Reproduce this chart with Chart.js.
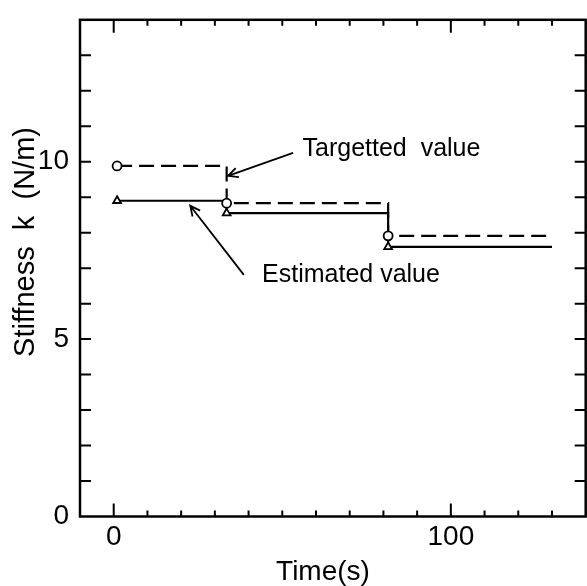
<!DOCTYPE html>
<html>
<head>
<meta charset="utf-8">
<script src="https://cdn.jsdelivr.net/npm/chart.js@4.4.1/dist/chart.umd.min.js"></script>
<style>
  html, body { margin: 0; padding: 0; background: #fff; overflow: hidden; }
  canvas { display: block; }
</style>
</head>
<body>
<canvas id="chart" width="592" height="586"></canvas>
<script>
// --- data: stiffness steps over time --- //
const targTime = [1, 33.5, 81.4, 130];
const targK    = [9.88, 8.83, 7.91, 7.91];
const estTime  = [1, 33.5, 81.4, 130];
const estK     = [8.9, 8.55, 7.6, 7.6];
const markerRadius = [4.5, 4.5, 4.5, 0];   // no marker on the run-out end

const xTickLabels = [0, 100];
const yTickLabels = [0, 5, 10];

// callouts, in data units
const notes = [
  {text: "Targetted  value", at: [56, 10.16], tail: [53.2, 10.25], tip: [33.9, 9.6]},
  {text: "Estimated value", at: [44, 6.62], tail: [38.6, 6.81], tip: [22.7, 8.76]}
];

const FONT = "'Liberation Sans', Arial, Helvetica, sans-serif";

function toXY(xs, ys){ return xs.map((x,i)=>({x:x, y:ys[i]})); }

const frame = {
  id: "frame",
  afterDraw(chart){
    const {ctx, chartArea:a, scales:{x, y}} = chart;
    ctx.save();
    ctx.strokeStyle = "#000";
    ctx.lineWidth = 2.5;
    ctx.strokeRect(a.left, a.top, a.right-a.left, a.bottom-a.top);

    // inward ticks, left and right
    ctx.lineWidth = 2;
    ctx.beginPath();
    for(let v=1; v<=13; v++){
      const py = y.getPixelForValue(v);
      ctx.moveTo(a.left, py);  ctx.lineTo(a.left+11, py);
      ctx.moveTo(a.right, py); ctx.lineTo(a.right-11, py);
    }
    // inward ticks, top and bottom
    for(let t=0; t<140; t+=10){
      const px = x.getPixelForValue(t);
      const len = t%100===0 ? 13 : 6;
      ctx.moveTo(px, a.bottom); ctx.lineTo(px, a.bottom-len);
      ctx.moveTo(px, a.top);    ctx.lineTo(px, a.top+len);
    }
    ctx.stroke();

    // callout arrows and texts
    ctx.lineWidth = 1.8;
    ctx.fillStyle = "#000";
    ctx.font = "25px " + FONT;
    ctx.textBaseline = "alphabetic";
    ctx.textAlign = "left";
    notes.forEach(n=>{
      const x0 = x.getPixelForValue(n.tail[0]), y0 = y.getPixelForValue(n.tail[1]);
      const x1 = x.getPixelForValue(n.tip[0]),  y1 = y.getPixelForValue(n.tip[1]);
      const ang = Math.atan2(y1-y0, x1-x0);
      ctx.beginPath();
      ctx.moveTo(x0, y0); ctx.lineTo(x1, y1);
      ctx.moveTo(x1 - 11*Math.cos(ang-0.45), y1 - 11*Math.sin(ang-0.45));
      ctx.lineTo(x1, y1);
      ctx.lineTo(x1 - 11*Math.cos(ang+0.45), y1 - 11*Math.sin(ang+0.45));
      ctx.stroke();
      ctx.fillText(n.text, x.getPixelForValue(n.at[0]), y.getPixelForValue(n.at[1]));
    });

    // axis titles
    ctx.font = "28px " + FONT;
    ctx.textAlign = "center";
    ctx.fillText("Time(s)", 323, 580);
    ctx.translate(26, 242);
    ctx.rotate(-Math.PI/2);
    ctx.textBaseline = "middle";
    ctx.font = "29px " + FONT;
    ctx.fillText("Stiffness  k  (N/m)", 0, 0);
    ctx.restore();
  }
};

new Chart(document.getElementById("chart"), {
  type: "line",
  data: {
    datasets: [
      {
        label: "Targetted value",
        data: toXY(targTime, targK),
        stepped: true,
        borderColor: "#000",
        borderWidth: 2.2,
        borderDash: [15, 7],
        pointStyle: "circle",
        pointRadius: markerRadius,
        pointBorderWidth: 1.8,
        pointBorderColor: "#000",
        pointBackgroundColor: "#fff"
      },
      {
        label: "Estimated value",
        data: toXY(estTime, estK),
        stepped: true,
        borderColor: "#000",
        borderWidth: 2.2,
        pointStyle: "triangle",
        pointRadius: markerRadius,
        pointBorderWidth: 1.8,
        pointBorderColor: "#000",
        pointBackgroundColor: "#fff"
      }
    ]
  },
  options: {
    responsive: false,
    animation: false,
    layout: {padding: {top: 9, right: 3.5, left: 0, bottom: 0}},
    plugins: {legend: {display: false}, tooltip: {enabled: false}},
    scales: {
      x: {
        type: "linear", min: -10, max: 140,
        grid: {display: false}, border: {display: false},
        afterFit: s => { s.height = 69.5; },
        ticks: {
          stepSize: 10, autoSkip: false, maxRotation: 0, padding: -4,
          color: "#000", font: {family: FONT, size: 28},
          callback: v => xTickLabels.includes(v) ? String(v) : ""
        }
      },
      y: {
        type: "linear", min: 0, max: 14,
        grid: {display: false}, border: {display: false},
        afterFit: s => { s.width = 80; },
        ticks: {
          stepSize: 1, autoSkip: false, padding: 3,
          color: "#000", font: {family: FONT, size: 28},
          callback: v => yTickLabels.includes(v) ? String(v) : ""
        }
      }
    }
  },
  plugins: [frame]
});
</script>
</body>
</html>
